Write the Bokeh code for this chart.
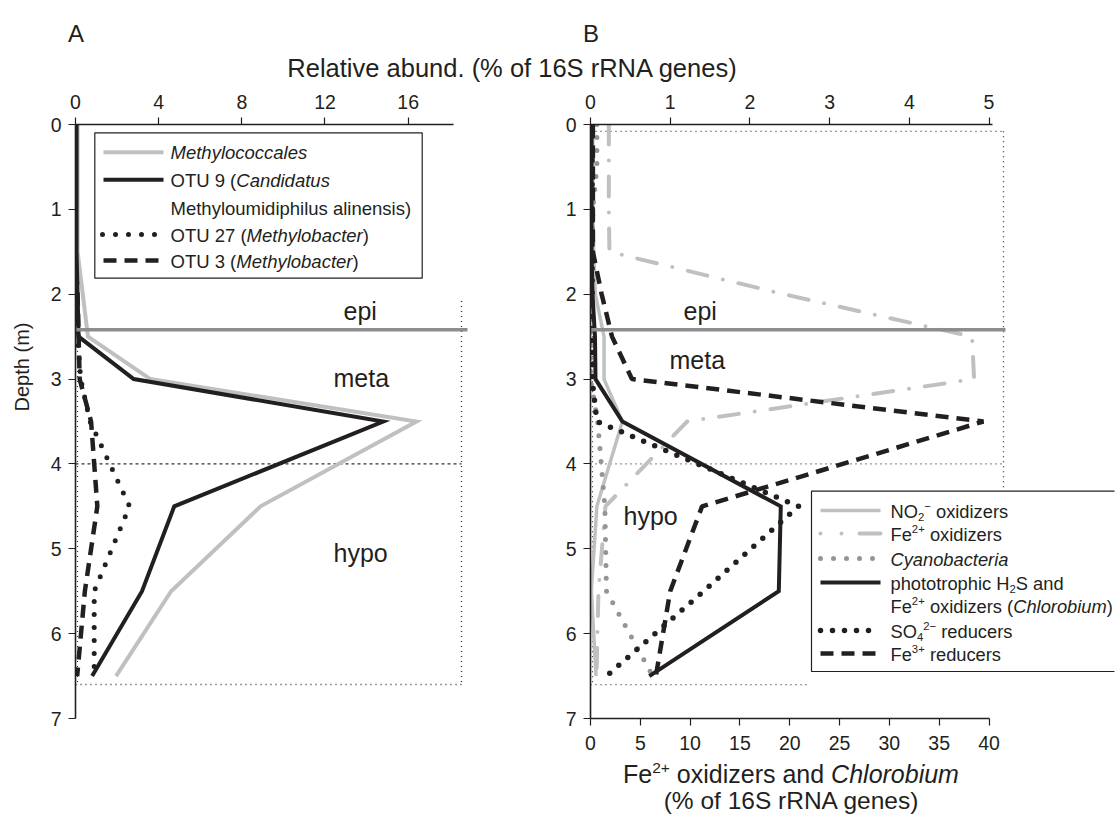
from bokeh.plotting import figure
from bokeh.models import Range1d, LinearAxis, FixedTicker, Label, Div
from bokeh.layouts import column, row
from bokeh.embed import file_html
from bokeh.resources import INLINE

FONT = "Liberation Sans"
TXT = "#231f20"

# ---------------- data ----------------
depth = [0, 0.5, 1, 1.5, 2, 2.5, 3, 3.5, 4.5, 5.5, 6.5]

# Panel A: relative abundance (% of 16S rRNA genes)
methylococcales = [0.1, 0.1, 0.1, 0.1, 0.35, 0.6, 3.6, 16.4, 8.9, 4.6, 1.95]
otu9 = [0.05, 0.05, 0.05, 0.05, 0.1, 0.15, 2.8, 14.8, 4.75, 3.2, 0.8]
otu27 = [0.05, 0.05, 0.05, 0.05, 0.05, 0.1, 0.25, 0.7, 2.6, 0.9, 0.9]
otu3 = [0.05, 0.05, 0.05, 0.05, 0.1, 0.15, 0.2, 0.75, 1.05, 0.45, 0.08]

# Panel B: top axis (% of 16S rRNA genes)
no2_oxidizers = [0.03, 0.03, 0.03, 0.04, 0.06, 0.17, 0.17, 0.40, 0.08, 0.01, 0.07]
cyanobacteria = [0.08, 0.08, 0.03, 0.02, 0.01, 0.0, 0.0, 0.09, 0.18, 0.2, 0.78]
so4_reducers = [0.02, 0.02, 0.02, 0.02, 0.02, 0.02, 0.02, 0.08, 2.61, 1.42, 0.2]
fe3_reducers = [0.03, 0.03, 0.03, 0.03, 0.14, 0.27, 0.52, 4.93, 1.4, 1.0, 0.82]
# Panel B: bottom axis (Fe2+ oxidizers and Chlorobium, % of 16S rRNA genes)
fe2_oxidizers = [1.84, 1.84, 1.84, 1.9, 19.4, 38.3, 38.5, 9.7, 1.5, 0.8, 0.6]
chlorobium = [0.1, 0.1, 0.1, 0.1, 0.2, 0.45, 0.5, 3.2, 19.1, 18.9, 5.9]

ticks_a_top = [0, 4, 8, 12, 16]
ticks_b_top = [0, 1, 2, 3, 4, 5]
ticks_b_bottom = [0, 5, 10, 15, 20, 25, 30, 35, 40]
ticks_depth = [0, 1, 2, 3, 4, 5, 6, 7]

# ---------------- geometry ----------------
DIV_H = 84
TOP_B = 40          # frame top inside figure -> page y 124
FRAME_H = 594
BOT_B = 40
FIG_H = TOP_B + FRAME_H + BOT_B
Y_PPU = FRAME_H / 7.0
LEFT_DIV_W = 40
A_LEFT, A_W, A_RIGHT = 75 - LEFT_DIV_W, 395, 10
B_LEFT, B_W, B_RIGHT = 110, 524, 2
A_XMAX = 19.0
B_PPU = 79.7
B_XMAX = B_W / B_PPU
FE_XMAX = B_XMAX * 8
A_PPU = A_W / A_XMAX
BOTTOM_DIV_H = 816 - DIV_H - FIG_H


def dy(py):
    return (py - 124) / Y_PPU


def dxa(px):
    return (px - 75) / A_PPU


def dxb(px):
    return (px - 590) / B_PPU


W = {' ': 278, '!': 278, '(': 333, ')': 333, '+': 584, '-': 333, '.': 278, '%': 889,
     '\u2212': 584}
for c in '0123456789':
    W[c] = 556
W.update(dict(A=667, B=667, C=722, D=722, E=667, F=611, G=778, H=722, I=278, J=500, K=667,
              L=556, M=833, N=722, O=778, P=667, Q=778, R=722, S=667, T=611, U=722, V=667,
              W=944, X=667, Y=667, Z=611))
W.update(dict(a=556, b=556, c=500, d=556, e=556, f=278, g=556, h=556, i=222, j=222, k=500,
              l=222, m=833, n=556, o=556, p=556, q=556, r=333, s=500, t=278, u=556, v=500,
              w=722, x=500, y=500, z=500))


def tw(s, size):
    return sum(W.get(c, 556) for c in s) / 1000.0 * size


def rich(p, x, y, pieces, fs, align="left", color=TXT):
    """y is the data coordinate of the text baseline."""
    specs = []
    for t, k in pieces:
        size = fs * 0.62 if k in ("sup", "sub") else fs
        specs.append((t, k, size, tw(t, size)))
    total = sum(s[3] for s in specs)
    off = 0 if align == "left" else -total / 2.0
    for t, k, size, w in specs:
        yo = 0.32 * size
        if k == "sup":
            yo += fs * 0.40
        elif k == "sub":
            yo -= fs * 0.20
        lead = len(t) - len(t.lstrip(" "))
        vis = t.strip(" ")
        o = off + tw(" " * lead, size)
        if vis:
            p.add_layout(Label(x=x, y=y, x_offset=o, y_offset=yo, text=vis, text_font=FONT,
                               text_font_size=f"{size:.1f}px",
                               text_font_style="italic" if k == "i" else "normal",
                               text_baseline="alphabetic", text_align="left",
                               text_color=color))
        off += w


def style_axis(ax, ticks, bounds, standoff):
    ax.ticker = FixedTicker(ticks=ticks)
    ax.bounds = bounds
    ax.axis_line_color = TXT
    ax.axis_line_width = 1.6
    ax.major_tick_line_color = TXT
    ax.major_tick_line_width = 1.2
    ax.major_tick_out = 7
    ax.major_tick_in = 0
    ax.minor_tick_line_color = None
    ax.major_label_text_font = FONT
    ax.major_label_text_font_size = "19.5px"
    ax.major_label_text_color = TXT
    ax.major_label_standoff = standoff
    ax.axis_label = None


def base_fig(width, left, right, x_end):
    p = figure(width=width, height=FIG_H, x_range=Range1d(0, x_end), y_range=Range1d(7, 0),
               x_axis_location="above", output_backend="svg", toolbar_location=None,
               min_border_left=left, min_border_right=right, min_border_top=TOP_B,
               min_border_bottom=BOT_B)
    p.xgrid.visible = False
    p.ygrid.visible = False
    p.outline_line_color = None
    p.background_fill_color = "white"
    p.border_fill_color = "white"
    return p


LIGHT = "#bfc0c2"
MID = "#959597"
BLACK = "#231f20"
HLINE = "#8c8d8f"
BOXDOT = "#333333"

STY = {
    "methylococcales": dict(line_color=LIGHT, line_width=4, line_join="miter"),
    "otu9": dict(line_color=BLACK, line_width=4, line_join="miter"),
    "otu27": dict(line_color=BLACK, line_width=5, line_dash="0 13", line_cap="round"),
    "otu3": dict(line_color=BLACK, line_width=4.5, line_dash="13 8", line_cap="butt"),
    "no2": dict(line_color=LIGHT, line_width=3.5, line_join="miter"),
    "fe2": dict(line_color=LIGHT, line_width=4, line_dash="20 16 0 16", line_cap="round"),
    "cyano": dict(line_color=MID, line_width=5, line_dash="0 13", line_cap="round"),
    "chl": dict(line_color=BLACK, line_width=4, line_join="miter"),
    "so4": dict(line_color=BLACK, line_width=5.5, line_dash="0 12", line_cap="round"),
    "fe3": dict(line_color=BLACK, line_width=4.5, line_dash="13 8", line_cap="butt"),
}

# ======================= Panel A =======================
pA = base_fig(A_LEFT + A_W + A_RIGHT, A_LEFT, A_RIGHT, A_XMAX)
style_axis(pA.xaxis[0], ticks_a_top, (0, 18.2), 9)
style_axis(pA.yaxis[0], ticks_depth, (0, 7), 7)

# frame decorations
pA.segment(x0=[dxa(461)], y0=[2.08], x1=[dxa(461)], y1=[6.6], line_color=BOXDOT, line_width=1.4, line_dash="1 4")
pA.segment(x0=[dxa(77)], y0=[2.08], x1=[dxa(77)], y1=[6.6], line_color=BOXDOT, line_width=1.2, line_dash="1 4")
pA.segment(x0=[0], y0=[6.6], x1=[dxa(461)], y1=[6.6], line_color=BOXDOT, line_width=1.4, line_dash="1 4")
pA.segment(x0=[0], y0=[4.0], x1=[dxa(461)], y1=[4.0], line_color=BOXDOT, line_width=1.2, line_dash="3 3")

pA.line(otu3, depth, **STY["otu3"])
pA.line(otu27, depth, **STY["otu27"])
pA.line(methylococcales, depth, **STY["methylococcales"])
pA.line(otu9, depth, **STY["otu9"])

pA.segment(x0=[0], y0=[2.42], x1=[dxa(467)], y1=[2.42], line_color=HLINE, line_width=3.5)

# legend A
pA.quad(left=[dxa(94.3)], right=[dxa(421.7)], top=[dy(132.3)], bottom=[dy(277.7)],
        fill_color="white", line_color=BLACK, line_width=1.2)
LFS = 18.5
rowsA = [151.7, 179.3, 207.3, 234, 260]
samplesA = [("methylococcales", rowsA[0]), ("otu9", rowsA[1]), ("otu27", rowsA[3]), ("otu3", rowsA[4])]
for key, ry in samplesA:
    x0 = dxa(103) if key != "otu27" else dxa(102)
    pA.line([x0, dxa(163)], [dy(ry), dy(ry)], **STY[key])
tx = dxa(170)
rich(pA, tx, dy(rowsA[0] + 0.36 * LFS), [("Methylococcales", "i")], LFS)
rich(pA, tx, dy(rowsA[1] + 0.36 * LFS), [("OTU 9 (", "n"), ("Candidatus", "i")], LFS)
rich(pA, tx, dy(rowsA[2] + 0.36 * LFS), [("Methyloumidiphilus alinensis)", "n")], LFS)
rich(pA, tx, dy(rowsA[3] + 0.36 * LFS), [("OTU 27 (", "n"), ("Methylobacter", "i"), (")", "n")], LFS)
rich(pA, tx, dy(rowsA[4] + 0.36 * LFS), [("OTU 3 (", "n"), ("Methylobacter", "i"), (")", "n")], LFS)

# zone labels A
RFS = 25
rich(pA, dxa(343), dy(318), [("epi", "n")], RFS)
rich(pA, dxa(333), dy(385), [("meta", "n")], RFS)
rich(pA, dxa(333), dy(560), [("hypo", "n")], RFS)

# ======================= Panel B =======================
pB = base_fig(B_LEFT + B_W + B_RIGHT, B_LEFT, B_RIGHT, B_XMAX)
pB.extra_x_ranges = {"fe": Range1d(0, FE_XMAX)}
style_axis(pB.xaxis[0], ticks_b_top, (0, 5.05), 9)
style_axis(pB.yaxis[0], ticks_depth, (0, 7), 7)
bottom = LinearAxis(x_range_name="fe")
style_axis(bottom, ticks_b_bottom, (0, 40), 10)
pB.add_layout(bottom, "below")

# frame decorations
pB.segment(x0=[0], y0=[0.08], x1=[dxb(1003)], y1=[0.08], line_color=BOXDOT, line_width=1.3, line_dash="1 4")
pB.segment(x0=[dxb(1003)], y0=[0.08], x1=[dxb(1003)], y1=[4.4], line_color=BOXDOT, line_width=1.3, line_dash="1 4")
pB.segment(x0=[dxb(592)], y0=[0.08], x1=[dxb(592)], y1=[6.6], line_color=BOXDOT, line_width=1.2, line_dash="1 4")
pB.segment(x0=[0], y0=[6.6], x1=[dxb(806)], y1=[6.6], line_color=BOXDOT, line_width=1.3, line_dash="1 4")
pB.segment(x0=[0], y0=[4.0], x1=[dxb(1003)], y1=[4.0], line_color=BOXDOT, line_width=1.3, line_dash="1 4")

pB.line(no2_oxidizers, depth, **STY["no2"])
pB.line(fe2_oxidizers, depth, x_range_name="fe", **STY["fe2"])
pB.line(cyanobacteria, depth, **STY["cyano"])
pB.line(so4_reducers, depth, **STY["so4"])
pB.line(fe3_reducers, depth, **STY["fe3"])
pB.line(chlorobium, depth, x_range_name="fe", **STY["chl"])

pB.segment(x0=[0], y0=[2.42], x1=[dxb(1005)], y1=[2.42], line_color=HLINE, line_width=3.5)

# legend B
pB.quad(left=[dxb(811)], right=[B_XMAX + 0.2], top=[dy(490.7)], bottom=[dy(671)],
        fill_color="white", line_color=BLACK, line_width=1.2)
LFB = 18.3
rowsB = [510, 533, 558, 582, 605, 630, 653]
samplesB = [("no2", rowsB[0]), ("fe2", rowsB[1]), ("cyano", rowsB[2]), ("chl", rowsB[3]),
            ("so4", rowsB[5]), ("fe3", rowsB[6])]
for key, ry in samplesB:
    st = dict(STY[key])
    if key == "fe2":
        st["line_dash"] = "0 21 0 18 22 100"
    pB.line([dxb(820), dxb(880)], [dy(ry), dy(ry)], **st)
tb = dxb(890)
rich(pB, tb, dy(rowsB[0] + 0.36 * LFB), [("NO", "n"), ("2", "sub"), ("\u2212", "sup"), (" oxidizers", "n")], LFB)
rich(pB, tb, dy(rowsB[1] + 0.36 * LFB), [("Fe", "n"), ("2+", "sup"), (" oxidizers", "n")], LFB)
rich(pB, tb, dy(rowsB[2] + 0.36 * LFB), [("Cyanobacteria", "i")], LFB)
rich(pB, tb, dy(rowsB[3] + 0.36 * LFB), [("phototrophic H", "n"), ("2", "sub"), ("S and", "n")], LFB)
rich(pB, tb, dy(rowsB[4] + 0.36 * LFB), [("Fe", "n"), ("2+", "sup"), (" oxidizers (", "n"), ("Chlorobium", "i"), (")", "n")], LFB)
rich(pB, tb, dy(rowsB[5] + 0.36 * LFB), [("SO", "n"), ("4", "sub"), ("2\u2212", "sup"), (" reducers", "n")], LFB)
rich(pB, tb, dy(rowsB[6] + 0.36 * LFB), [("Fe", "n"), ("3+", "sup"), (" reducers", "n")], LFB)

# zone labels B
rich(pB, dxb(683), dy(318), [("epi", "n")], RFS)
rich(pB, dxb(669), dy(367), [("meta", "n")], RFS)
rich(pB, dxb(623), dy(523), [("hypo", "n")], RFS)

# ======================= text outside the frames (HTML) =======================
FF = "'Liberation Sans', Arial, sans-serif"
TOTAL_W = LEFT_DIV_W + (A_LEFT + A_W + A_RIGHT) + (B_LEFT + B_W + B_RIGHT)
header = Div(width=TOTAL_W, height=DIV_H, margin=0, text=(
    f'<div style="position:relative;width:{TOTAL_W}px;height:{DIV_H}px;font-family:{FF};color:{TXT};">'
    '<span style="position:absolute;left:68px;top:22px;font-size:24px;line-height:1;">A</span>'
    '<span style="position:absolute;left:583px;top:22px;font-size:24px;line-height:1;">B</span>'
    '<span style="position:absolute;left:512px;top:56px;font-size:25.5px;line-height:1;white-space:nowrap;'
    'transform:translateX(-50%);">Relative abund. (% of 16S rRNA genes)</span>'
    '</div>'))

left_div = Div(width=LEFT_DIV_W, height=FIG_H, margin=0, text=(
    f'<div style="position:relative;width:{LEFT_DIV_W}px;height:{FIG_H}px;font-family:{FF};color:{TXT};">'
    f'<span style="position:absolute;left:22px;top:{367 - DIV_H}px;font-size:20px;line-height:1;'
    'white-space:nowrap;transform:translate(-50%,-50%) rotate(-90deg);">Depth (m)</span>'
    '</div>'))

SUP = 'style="font-size:62%;line-height:0;vertical-align:0.62em;"'
bottom_top = DIV_H + FIG_H


def line_div(baseline, fs, html):
    top = baseline - bottom_top - (0.905 * fs + (1 - 1.117) * fs / 2)
    return (f'<div style="position:absolute;left:791px;top:{top:.1f}px;transform:translateX(-50%);'
            f'font-size:{fs}px;line-height:1;white-space:nowrap;">{html}</div>')


bottom_div = Div(width=TOTAL_W, height=BOTTOM_DIV_H, margin=0, text=(
    f'<div style="position:relative;width:{TOTAL_W}px;height:{BOTTOM_DIV_H}px;font-family:{FF};color:{TXT};">'
    + line_div(783, 25, f'Fe<span {SUP}>2+</span> oxidizers and <i>Chlorobium</i>')
    + line_div(810, 24.5, '(% of 16S rRNA genes)')
    + '</div>'))

layout = column(header, row(left_div, pA, pB, spacing=0), bottom_div, spacing=0)
open("out.html", "w").write(file_html(layout, INLINE))
